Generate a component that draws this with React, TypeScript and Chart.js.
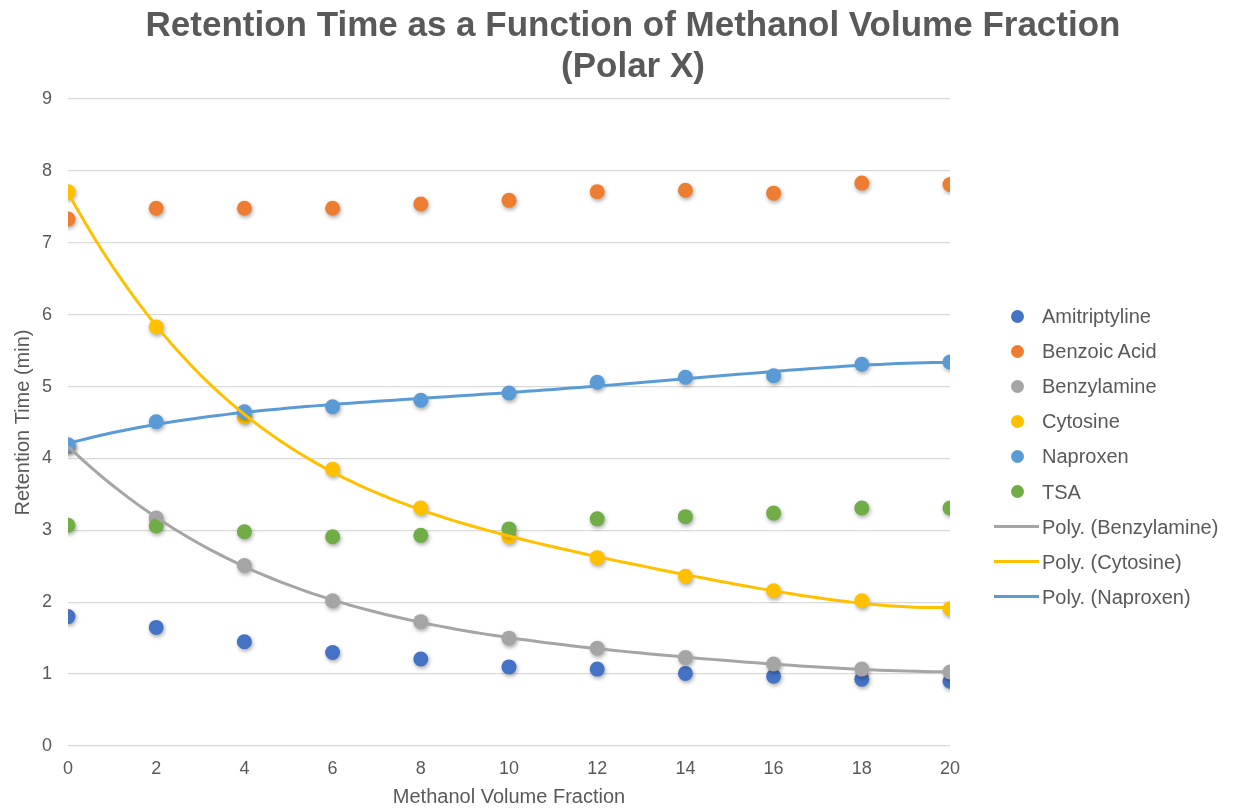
import React, { useEffect, useRef } from "react";
import { Chart, registerables } from "chart.js";

Chart.register(...registerables);

const FONT = '"Liberation Sans", Arial, Helvetica, sans-serif';
const TEXT_COLOR = "#595959";

const titleLines = ["Retention Time as a Function of Methanol Volume Fraction", "(Polar X)"];
const xAxisTitle = "Methanol Volume Fraction";
const yAxisTitle = "Retention Time (min)";

const methanol = [0, 2, 4, 6, 8, 10, 12, 14, 16, 18, 20];
const amitriptyline = [1.8, 1.65, 1.45, 1.3, 1.21, 1.1, 1.07, 1.01, 0.97, 0.93, 0.9];
const benzoicAcid = [7.33, 7.48, 7.48, 7.48, 7.54, 7.59, 7.71, 7.73, 7.69, 7.83, 7.81];
const benzylamine = [4.17, 3.17, 2.51, 2.02, 1.73, 1.5, 1.36, 1.23, 1.14, 1.07, 1.03];
const cytosine = [7.71, 5.83, 4.58, 3.85, 3.31, 2.91, 2.62, 2.36, 2.16, 2.02, 1.91];
const naproxen = [4.19, 4.51, 4.65, 4.72, 4.81, 4.91, 5.06, 5.13, 5.15, 5.31, 5.34];
const tsa = [3.07, 3.06, 2.98, 2.91, 2.93, 3.02, 3.16, 3.19, 3.24, 3.31, 3.31];

const seriesNames = ["Amitriptyline", "Benzoic Acid", "Benzylamine", "Cytosine", "Naproxen", "TSA"];
const seriesValues = [amitriptyline, benzoicAcid, benzylamine, cytosine, naproxen, tsa];
const seriesColors = ["#4472C4", "#ED7D31", "#A5A5A5", "#FFC000", "#5B9BD5", "#70AD47"];

const trendNames = ["Poly. (Benzylamine)", "Poly. (Cytosine)", "Poly. (Naproxen)"];
const trendSources = [benzylamine, cytosine, naproxen];
const trendColors = ["#A5A5A5", "#FFC000", "#5B9BD5"];
const trendOrder = 4;

const xMin = 0, xMax = 20, xStep = 2;
const yMin = 0, yMax = 9, yStep = 1;

function polyFit(xs: number[], ys: number[], order: number): number[] {
  const n = order + 1;
  const A: number[][] = [];
  for (let r = 0; r < n; r++) {
    const row: number[] = [];
    for (let c = 0; c < n; c++) {
      let s = 0;
      for (let i = 0; i < xs.length; i++) s += Math.pow(xs[i], r + c);
      row.push(s);
    }
    let s = 0;
    for (let i = 0; i < xs.length; i++) s += ys[i] * Math.pow(xs[i], r);
    row.push(s);
    A.push(row);
  }
  for (let col = 0; col < n; col++) {
    let piv = col;
    for (let r = col + 1; r < n; r++) if (Math.abs(A[r][col]) > Math.abs(A[piv][col])) piv = r;
    const tmp = A[col]; A[col] = A[piv]; A[piv] = tmp;
    for (let r = 0; r < n; r++) {
      if (r === col) continue;
      const f = A[r][col] / A[col][col];
      for (let c = col; c <= n; c++) A[r][c] -= f * A[col][c];
    }
  }
  return A.map((row, i) => row[n] / row[i]);
}

function trendPoints(xs: number[], ys: number[], order: number) {
  const coef = polyFit(xs, ys, order);
  const pts: { x: number; y: number }[] = [];
  const lo = xs[0], hi = xs[xs.length - 1];
  const steps = 100;
  for (let i = 0; i <= steps; i++) {
    const x = lo + ((hi - lo) * i) / steps;
    let y = 0;
    for (let k = 0; k < coef.length; k++) y += coef[k] * Math.pow(x, k);
    pts.push({ x, y });
  }
  return pts;
}

const titlePlugin = {
  id: "titleText",
  afterDraw(chart: any) {
    const ctx = chart.ctx;
    ctx.save();
    ctx.font = `bold 35px ${FONT}`;
    ctx.fillStyle = TEXT_COLOR;
    ctx.textAlign = "center";
    ctx.textBaseline = "alphabetic";
    ctx.fillText(titleLines[0], 633, 36);
    ctx.fillText(titleLines[1], 633, 77);
    ctx.restore();
  },
};

const shadowPlugin = {
  id: "pointShadow",
  beforeDatasetDraw(chart: any, args: any) {
    const ds = chart.data.datasets[args.index];
    if (ds.showLine === false) {
      const ctx = chart.ctx;
      ctx.save();
      ctx.shadowColor = "rgba(0,0,0,0.35)";
      ctx.shadowBlur = 4;
      ctx.shadowOffsetX = 1;
      ctx.shadowOffsetY = 2;
    }
  },
  afterDatasetDraw(chart: any, args: any) {
    const ds = chart.data.datasets[args.index];
    if (ds.showLine === false) chart.ctx.restore();
  },
};

export default function App() {
  const canvasRef = useRef<HTMLCanvasElement | null>(null);

  useEffect(() => {
    const canvas = canvasRef.current;
    if (!canvas) return;

    const pointSets = seriesNames.map((name, i) => ({
      label: name,
      data: methanol.map((x, j) => ({ x, y: seriesValues[i][j] })),
      showLine: false,
      pointRadius: 7.5,
      pointHoverRadius: 7.5,
      pointBackgroundColor: seriesColors[i],
      pointBorderColor: seriesColors[i],
      pointBorderWidth: 0,
      backgroundColor: seriesColors[i],
      borderColor: seriesColors[i],
      order: 10 - i,
    }));

    const trendSets = trendNames.map((name, i) => ({
      label: name,
      data: trendPoints(methanol, trendSources[i], trendOrder),
      showLine: true,
      pointRadius: 0,
      borderWidth: 3,
      borderColor: trendColors[i],
      backgroundColor: trendColors[i],
      fill: false,
      tension: 0,
      order: 1,
    }));

    const chart = new Chart(canvas, {
      type: "scatter",
      data: { datasets: [...pointSets, ...trendSets] as any },
      options: {
        animation: false,
        responsive: false,
        maintainAspectRatio: false,
        layout: { padding: { left: 0, right: 289, top: 99, bottom: 0 } },
        plugins: {
          legend: { display: false },
          tooltip: { enabled: false },
          title: { display: false },
        },
        scales: {
          x: {
            type: "linear",
            min: xMin,
            max: xMax,
            afterFit: (s: any) => { s.height = 63; },
            ticks: {
              stepSize: xStep,
              color: TEXT_COLOR,
              font: { family: FONT, size: 18 },
              padding: 12,
              maxRotation: 0,
            },
            grid: { display: false, drawTicks: false },
            border: { display: false },
            title: {
              display: true,
              text: xAxisTitle,
              color: TEXT_COLOR,
              font: { family: FONT, size: 20 },
              padding: { top: 0, bottom: 0 },
            },
          },
          y: {
            type: "linear",
            min: yMin,
            max: yMax,
            afterFit: (s: any) => { s.width = 68; },
            ticks: {
              stepSize: yStep,
              color: TEXT_COLOR,
              font: { family: FONT, size: 18 },
              padding: 16,
            },
            grid: { color: "#D9D9D9", lineWidth: 1.3, drawTicks: false },
            border: { display: false },
            title: {
              display: true,
              text: yAxisTitle,
              color: TEXT_COLOR,
              font: { family: FONT, size: 20 },
              padding: { top: 11, bottom: 0 },
            },
          },
        },
      },
      plugins: [titlePlugin, shadowPlugin],
    });

    return () => chart.destroy();
  }, []);

  const legendItems = [
    ...seriesNames.map((n, i) => ({ label: n, color: seriesColors[i], kind: "point" })),
    ...trendNames.map((n, i) => ({ label: n, color: trendColors[i], kind: "line" })),
  ];

  return (
    <div style={{ position: "absolute", left: 0, top: 0, width: 1239, height: 809, background: "#fff" }}>
      <canvas ref={canvasRef} width={1239} height={809} style={{ display: "block" }} />
      {legendItems.map((it, i) => {
        const cy = 316 + i * 35.1;
        return (
          <div key={it.label} style={{ position: "absolute", left: 0, top: 0 }}>
            {it.kind === "point" ? (
              <div
                style={{
                  position: "absolute",
                  left: 1017 - 6.5,
                  top: cy - 6.5,
                  width: 13,
                  height: 13,
                  borderRadius: "50%",
                  background: it.color,
                }}
              />
            ) : (
              <div
                style={{
                  position: "absolute",
                  left: 994,
                  top: cy - 1.5,
                  width: 45,
                  height: 3,
                  background: it.color,
                }}
              />
            )}
            <div
              style={{
                position: "absolute",
                left: 1042,
                top: cy - 12,
                height: 24,
                lineHeight: "24px",
                fontFamily: FONT,
                fontSize: 20,
                color: TEXT_COLOR,
                whiteSpace: "nowrap",
              }}
            >
              {it.label}
            </div>
          </div>
        );
      })}
    </div>
  );
}
